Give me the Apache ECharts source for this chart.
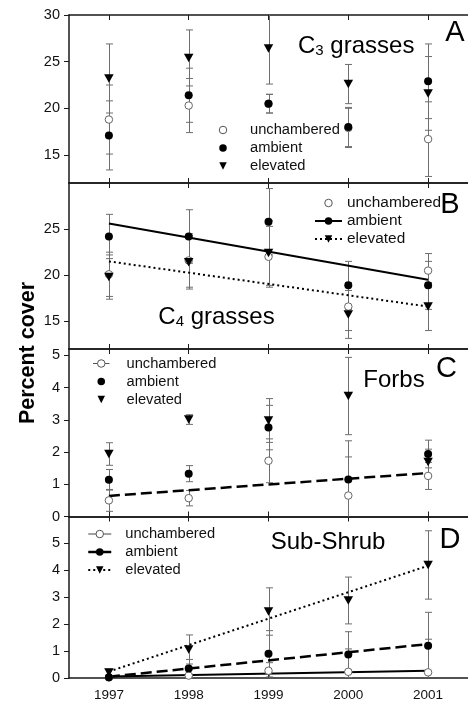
<!DOCTYPE html>
<html><head><meta charset="utf-8">
<script src="https://cdn.jsdelivr.net/npm/echarts@6.0.0/dist/echarts.min.js"></script>
<style>html,body{margin:0;padding:0;background:#fff;}#c{width:468px;height:702px;}</style>
</head><body><div id="c"></div>
<script>
const years = ['1997', '1998', '1999', '2000', '2001'];

// Panel A: C3 grasses
const unchA = [18.8, 20.3, 20.5, 17.9, 16.7];
const unchAErr = [3.7, 2.9, 1.0, 2.1, 4.0];
const ambA = [17.1, 21.4, 20.5, 18.0, 22.9];
const ambAErr = [3.7, 2.9, 1.0, 2.1, 4.0];
const elevA = [23.2, 25.4, 26.4, 22.6, 21.6];
const elevAErr = [3.7, 3.0, 3.8, 2.1, 3.95];

// Panel B: C4 grasses
const unchB = [20.1, 21.6, 22.0, 16.6, 20.5];
const unchBErr = [2.4, 2.9, 3.3, 2.6, 1.85];
const ambB = [24.2, 24.2, 25.8, 18.9, 18.9];
const ambBErr = [2.4, 2.9, 3.6, 2.6, 2.6];
const elevB = [19.8, 21.4, 22.4, 15.75, 16.6];
const elevBErr = [2.4, 2.9, 3.5, 2.6, 2.6];
const ambFitB = [25.6, null, null, null, 19.5];
const elevFitB = [21.5, null, null, null, 16.6];

// Panel C: Forbs
const unchC = [0.5, 0.57, 1.73, 0.65, 1.26];
const unchCErr = [0.34, 0.24, 0.68, 1.2, 0.42];
const ambC = [1.14, 1.33, 2.76, 1.15, 1.94];
const ambCErr = [0.32, 0.25, 0.69, 1.2, 0.43];
const elevC = [1.94, 3.01, 2.98, 3.74, 1.69];
const elevCErr = [0.35, 0.15, 0.68, 1.2, 0.4];
const fitC = [0.64, null, null, null, 1.35];

// Panel D: Sub-Shrub
const unchD = [0.02, 0.09, 0.27, 0.23, 0.21];
const unchDErr = [0.03, 0.05, 0.3, 0.85, 1.23];
const ambD = [0.03, 0.35, 0.9, 0.87, 1.2];
const ambDErr = [0.05, 0.34, 0.86, 0.85, 1.24];
const elevD = [0.2, 1.06, 2.47, 2.88, 4.2];
const elevDErr = [0.13, 0.54, 0.88, 0.87, 1.27];
const unchFitD = [0.06, null, null, null, 0.27];
const ambFitD = [0.05, null, null, null, 1.26];
const elevFitD = [0.24, null, null, null, 4.17];

// Axis ticks
const yLabelsA = [15, 20, 25, 30];
const yLabelsB = [15, 20, 25];
const yLabelsC = [0, 1, 2, 3, 4, 5];
const yLabelsD = [0, 1, 2, 3, 4, 5];

const FONT = "'Liberation Sans', Arial, Helvetica, sans-serif";
const AXC = '#1a1a1a';
const ERRC = '#6e6e6e';
const TRI = 'path://M0,0L10,0L5,9Z';

const gridDefs = [
  {left: 69, right: -4, top: 15, height: 168},
  {left: 69, right: -4, top: 183, height: 166},
  {left: 69, right: -4, top: 349, height: 167.5},
  {left: 69, right: -4, top: 516.5, height: 164.2}
];
const yRanges = [[12, 30], [12, 30], [0, 5.2], [0, 6]];
const yLabelSets = [yLabelsA, yLabelsB, yLabelsC, yLabelsD];

const xAxes = [], yAxes = [];
gridDefs.forEach((g, i) => {
  xAxes.push({
    type: 'category', gridIndex: i, data: years, boundaryGap: true, position: 'bottom',
    axisLine: {show: true, lineStyle: {color: AXC, width: 1.5}},
    axisTick: {show: true, inside: true, length: 5, alignWithLabel: true, interval: 0, lineStyle: {color: AXC, width: 1}},
    axisLabel: {show: i === 3, interval: 0, margin: 10, fontSize: 13.5, color: '#111', fontFamily: FONT},
    splitLine: {show: false}
  });
  xAxes.push({
    type: 'category', gridIndex: i, data: years, boundaryGap: true, position: 'top',
    axisLine: {show: true, lineStyle: {color: AXC, width: 1.5}},
    axisTick: {show: true, inside: true, length: 5, alignWithLabel: true, interval: 0, lineStyle: {color: AXC, width: 1}},
    axisLabel: {show: false}, splitLine: {show: false}
  });
  yAxes.push({
    type: 'value', gridIndex: i, min: yRanges[i][0], max: yRanges[i][1],
    axisLine: {show: true, lineStyle: {color: AXC, width: 1.5}},
    axisTick: {show: true, inside: false, length: 5, customValues: yLabelSets[i], lineStyle: {color: AXC, width: 1}},
    axisLabel: {show: true, customValues: yLabelSets[i], margin: 9, fontSize: 14.5, color: '#111', fontFamily: FONT},
    splitLine: {show: false}
  });
});

function errRender(params, api) {
  const x = api.value(0), v = api.value(1), e = api.value(2);
  const cs = params.coordSys;
  const top = cs.y, bot = cs.y + cs.height;
  const pHi = api.coord([x, v + e]);
  const pLo = api.coord([x, v - e]);
  const cx = Math.round(pHi[0]) + 0.5;
  const st = {stroke: ERRC, lineWidth: 1};
  const yHi = Math.max(pHi[1], top), yLo = Math.min(pLo[1], bot);
  const ch = [{type: 'line', shape: {x1: cx, y1: yHi, x2: cx, y2: yLo}, style: st}];
  if (pHi[1] >= top) ch.push({type: 'line', shape: {x1: cx - 3.5, y1: pHi[1], x2: cx + 3.5, y2: pHi[1]}, style: st});
  if (pLo[1] <= bot) ch.push({type: 'line', shape: {x1: cx - 3.5, y1: pLo[1], x2: cx + 3.5, y2: pLo[1]}, style: st});
  return {type: 'group', children: ch};
}

const kinds = {
  unchambered: {symbol: 'circle', symbolSize: 7.5, itemStyle: {color: '#fff', borderColor: '#666', borderWidth: 1}},
  ambient: {symbol: 'circle', symbolSize: 8, itemStyle: {color: '#000', borderWidth: 0}},
  elevated: {symbol: TRI, symbolSize: [9.5, 8.5], itemStyle: {color: '#000', borderWidth: 0}}
};

const panelSeries = [
  [['unchambered', unchA, unchAErr], ['ambient', ambA, ambAErr], ['elevated', elevA, elevAErr]],
  [['unchambered', unchB, unchBErr], ['ambient', ambB, ambBErr], ['elevated', elevB, elevBErr]],
  [['unchambered', unchC, unchCErr], ['ambient', ambC, ambCErr], ['elevated', elevC, elevCErr]],
  [['unchambered', unchD, unchDErr], ['ambient', ambD, ambDErr], ['elevated', elevD, elevDErr]]
];
const keys = ['A', 'B', 'C', 'D'];

const series = [];
panelSeries.forEach((grp, i) => {
  grp.forEach(([kind, vals, errs]) => {
    series.push({
      type: 'custom', xAxisIndex: i * 2, yAxisIndex: i, z: 2, silent: true,
      renderItem: errRender,
      data: vals.map((v, j) => [j, v, errs[j]])
    });
  });
});

const fits = [
  [1, ambFitB, {color: '#000', width: 2, type: 'solid'}],
  [1, elevFitB, {color: '#000', width: 2, type: [2, 3]}],
  [2, fitC, {color: '#000', width: 2.5, type: [11, 5]}],
  [3, unchFitD, {color: '#000', width: 2, type: 'solid'}],
  [3, ambFitD, {color: '#000', width: 2.5, type: [11, 5]}],
  [3, elevFitD, {color: '#000', width: 2, type: [2, 3]}]
];
fits.forEach(([i, d, ls]) => {
  series.push({
    type: 'line', xAxisIndex: i * 2, yAxisIndex: i, data: d, connectNulls: true,
    symbol: 'none', lineStyle: ls, z: 3, silent: true, animation: false
  });
});

panelSeries.forEach((grp, i) => {
  grp.forEach(([kind, vals]) => {
    const k = kinds[kind];
    series.push({
      name: keys[i] + ':' + kind, type: 'line', xAxisIndex: i * 2, yAxisIndex: i, z: 4,
      data: vals, symbol: k.symbol, symbolSize: k.symbolSize, showSymbol: true, showAllSymbol: true,
      itemStyle: k.itemStyle, lineStyle: {width: 0, color: '#000'}, silent: true, animation: false
    });
  });
});

const legItemStyle = {
  unchambered: {color: '#fff', borderColor: '#555', borderWidth: 1},
  ambient: {color: '#000', borderWidth: 0},
  elevated: {color: '#000', borderWidth: 0}
};
function li(p, kind, line) {
  return {name: p + ':' + kind, itemStyle: legItemStyle[kind], lineStyle: line || {width: 0}};
}
function legend(p, left, top, itemWidth, fontSize, padLeft, items) {
  return {
    orient: 'vertical', left: left, top: top, padding: 0, itemGap: 0,
    itemWidth: itemWidth, itemHeight: 9.4, selectedMode: false,
    formatter: n => n.slice(2),
    textStyle: {fontSize: fontSize, lineHeight: 18, color: '#111', fontFamily: FONT, padding: [0, 0, 0, padLeft]},
    data: items
  };
}
const legends = [
  legend('A', 201, 121, 44, 14.7, 0, [li('A', 'unchambered'), li('A', 'ambient'), li('A', 'elevated')]),
  legend('B', 314, 194, 27, 15.4, 0, [li('B', 'unchambered'),
    li('B', 'ambient', {width: 2, color: '#000', type: 'solid', opacity: 1}),
    li('B', 'elevated', {width: 2, color: '#000', type: [2, 3], opacity: 1})]),
  legend('C', 92.5, 354.5, 16.5, 14.7, 12, [li('C', 'unchambered', {width: 1, color: '#555', type: 'solid', opacity: 1}),
    li('C', 'ambient'), li('C', 'elevated')]),
  legend('D', 87, 525, 23, 14.7, 9, [li('D', 'unchambered', {width: 1, color: '#444', type: 'solid', opacity: 1}),
    li('D', 'ambient', {width: 2.5, color: '#000', type: 'solid', opacity: 1}),
    li('D', 'elevated', {width: 2, color: '#000', type: [2, 3], opacity: 1})])
];

const richT = {
  m: {fontSize: 24, fontFamily: FONT, lineHeight: 24, verticalAlign: 'top', fill: '#000'},
  s: {fontSize: 15, fontFamily: FONT, lineHeight: 7, verticalAlign: 'bottom', fill: '#000'}
};
const graphics = [
  {type: 'text', x: 28, y: 353, rotation: Math.PI / 2, silent: true,
   style: {text: 'Percent cover', font: 'bold 21.5px ' + FONT, fill: '#000', align: 'center', verticalAlign: 'middle'}},
  {type: 'text', x: 298, y: 34.7, silent: true, style: {text: '{m|C}{s|3}{m| grasses}', rich: richT, verticalAlign: 'top'}},
  {type: 'text', x: 158.3, y: 305.5, silent: true, style: {text: '{m|C}{s|4}{m| grasses}', rich: richT, verticalAlign: 'top'}},
  {type: 'text', x: 363.3, y: 380, silent: true, style: {text: 'Forbs', font: '24px ' + FONT, fill: '#000', verticalAlign: 'middle'}},
  {type: 'text', x: 270.7, y: 542.5, silent: true, style: {text: 'Sub-Shrub', font: '24px ' + FONT, fill: '#000', verticalAlign: 'middle'}},
  {type: 'text', x: 455, y: 33, silent: true, style: {text: 'A', font: '29px ' + FONT, fill: '#000', align: 'center', verticalAlign: 'middle'}},
  {type: 'text', x: 450, y: 205, silent: true, style: {text: 'B', font: '29px ' + FONT, fill: '#000', align: 'center', verticalAlign: 'middle'}},
  {type: 'text', x: 446.5, y: 369, silent: true, style: {text: 'C', font: '29px ' + FONT, fill: '#000', align: 'center', verticalAlign: 'middle'}},
  {type: 'text', x: 450, y: 540, silent: true, style: {text: 'D', font: '29px ' + FONT, fill: '#000', align: 'center', verticalAlign: 'middle'}}
];

const chart = echarts.init(document.getElementById('c'), null, {renderer: 'canvas'});
chart.setOption({
  animation: false,
  backgroundColor: '#fff',
  grid: gridDefs,
  xAxis: xAxes,
  yAxis: yAxes,
  legend: legends,
  series: series,
  graphic: graphics
});
</script></body></html>
